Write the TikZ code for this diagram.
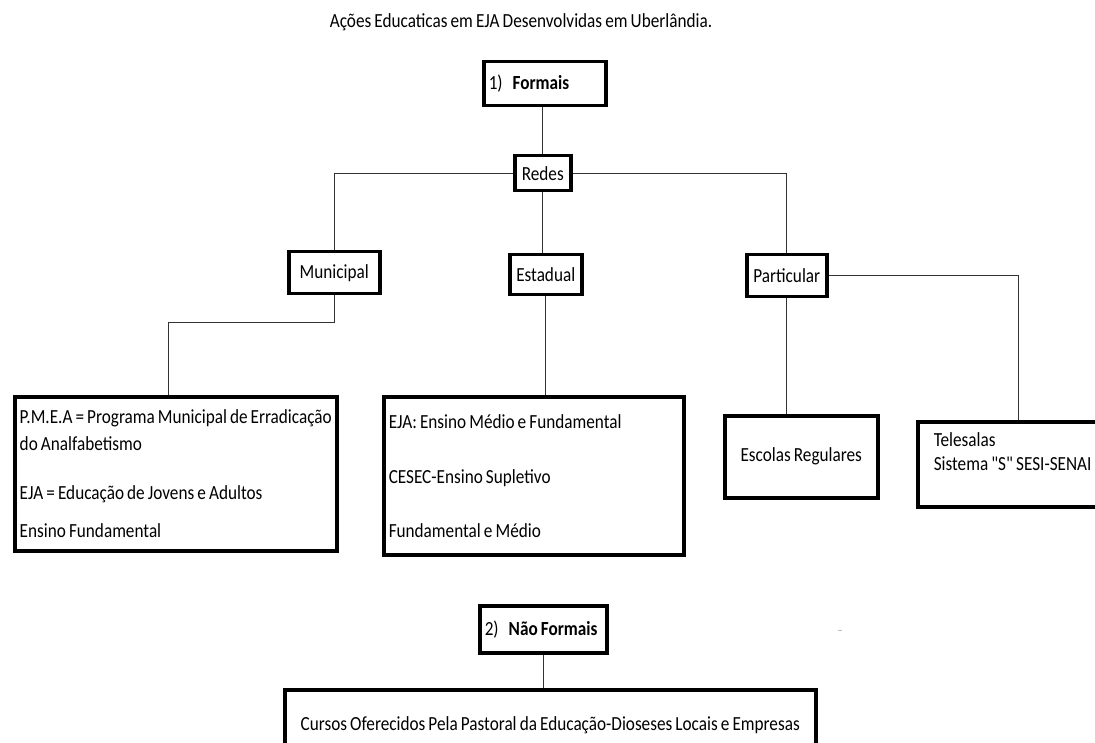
\documentclass[tikz,border=0pt]{standalone}
\usepackage{fontspec}
\setmainfont[FakeStretch=0.86, WordSpace=0.8]{Carlito}
\newfontfamily\aspas[FakeStretch=0.86, WordSpace=0.8]{Carlito}
\usetikzlibrary{positioning}

\begin{document}
\begin{tikzpicture}[x=1pt, y=-1pt]
		\tikzset{
			every node/.style={font=\fontsize{20pt}{22pt}\selectfont},
			caixa/.style={rectangle, draw=black, line width=3.5pt, anchor=north west, inner sep=0pt},
			texto/.style={caixa, align=flush left, inner xsep=5pt},
			ligacao/.style={draw=black!80, line width=1.3pt}
		}
		\clip (0,0) rectangle (1095,743);

		\node (titulo) at (521,22) {Ações Educaticas em EJA Desenvolvidas em Uberlândia.};

		% nivel 1
		\node[texto, minimum width=122pt, minimum height=44pt, text width=112pt] (formais) at (482,60) {1)\enspace\textbf{Formais}};
		\node[caixa, minimum width=56pt, minimum height=35pt] (redes) at (513,154) {Redes};

		% redes
		\node[caixa, minimum width=91pt, minimum height=42pt] (municipal) at (287,250) {Municipal};
		\node[caixa, minimum width=72pt, minimum height=40pt] (estadual) at (508,253) {Estadual};
		\node[caixa, minimum width=80pt, minimum height=42pt] (particular) at (745,253) {Particular};

		% acoes
		\node[texto, minimum width=322pt, minimum height=154pt, text width=312pt] (pmea) at (13,395)
			{P.M.E.A = Programa Municipal de Erradicação\\[5pt] do Analfabetismo\\[27pt] EJA = Educação de Jovens e Adultos\\[16pt] Ensino Fundamental};
		\node[texto, minimum width=300pt, minimum height=158pt, text width=290pt] (cesec) at (382,395)
			{EJA: Ensino Médio e Fundamental\\[33pt] CESEC-Ensino Supletivo\\[32pt] Fundamental e Médio};
		\node[caixa, minimum width=153pt, minimum height=82pt] (escolas) at (723,414) {Escolas Regulares};
		\node[texto, minimum width=180pt, minimum height=85pt, text width=170pt, inner xsep=16pt] (telesalas) at (916,420)
			{Telesalas\\[2pt] Sistema {\aspas"S"} SESI-SENAI\\[-4pt] \strut};

		% nivel 2
		\node[texto, minimum width=127pt, minimum height=47pt, text width=117pt] (naoformais) at (478,604) {2)\enspace\textbf{Não Formais}};
		\node[caixa, minimum width=531pt, minimum height=70pt] (cursos) at (283,688) {Cursos Oferecidos Pela Pastoral da Educação-Dioseses Locais e Empresas};
		\node[text=black!70, font=\fontsize{9pt}{9pt}\selectfont] (pontos) at (840,631) {..};

		\draw[ligacao] (redes.north) -- (redes.north |- formais.south);
		\draw[ligacao] (redes.west) -| (municipal.north);
		\draw[ligacao] (redes.east) -| (particular.north);
		\draw[ligacao] (redes.south) -- (redes.south |- estadual.north);
		\draw[ligacao] (municipal.south) -- ++(0,27) -| ([xshift=-7pt]pmea.north);
		\draw[ligacao] (estadual.south) -- (estadual.south |- cesec.north);
		\draw[ligacao] (particular.south) -- (particular.south |- escolas.north);
		\draw[ligacao] (particular.east) -| (telesalas.north);
		\draw[ligacao] (naoformais.south) -- (naoformais.south |- cursos.north);
	\end{tikzpicture}
\end{document}
